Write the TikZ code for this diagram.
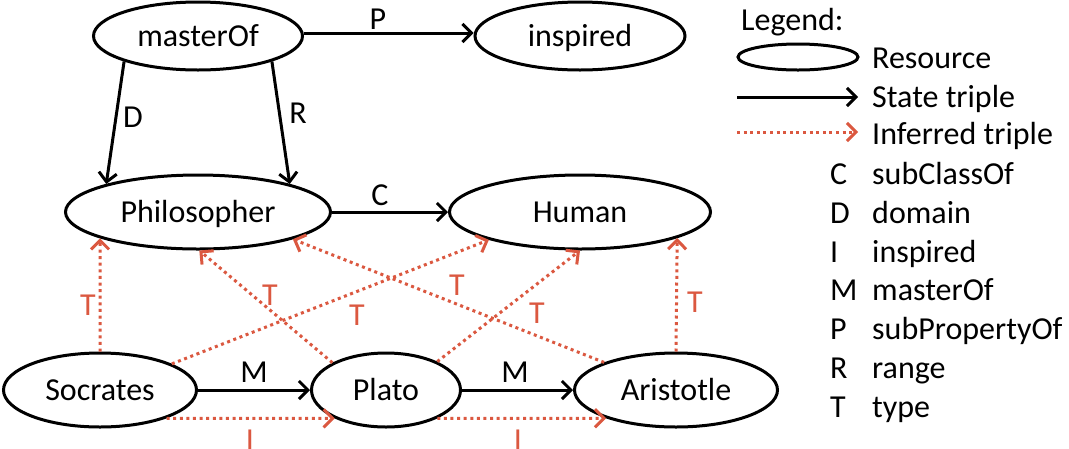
\documentclass[tikz,border=0pt]{standalone}
\usepackage{fontspec}
\setmainfont{Carlito}
\usetikzlibrary{arrows.meta,shapes.geometric}
\definecolor{infred}{RGB}{219,88,64}
\begin{document}
\begin{tikzpicture}[x=1pt,y=-1pt,
  font=\fontsize{32}{38}\selectfont,
  txt/.style={inner sep=0pt,text height=20.4pt,text depth=0pt},
  res/.style={draw,line width=3pt,ellipse,inner sep=0pt,text height=20.4pt,text depth=0pt},
  stated/.style={draw,line width=3pt,-{Straight Barb[length=9pt,width=18pt]}},
  inferred/.style={draw=infred,line width=3pt,dash pattern=on 3pt off 3.6pt,-{Straight Barb[length=9pt,width=18pt]}},
  lbl/.style={txt},
  tlbl/.style={txt,text=infred}
]
\fill[white] (0,0) rectangle (1069,448);
\useasboundingbox (0,0) rectangle (1069,448);

% resources
\node[res,minimum width=209pt,minimum height=68pt] (masterOf) at (198,36) {masterOf};
\node[res,minimum width=210pt,minimum height=68pt] (inspired) at (580,36) {inspired};
\node[res,minimum width=265pt,minimum height=74pt] (phil) at (198,212) {Philosopher};
\node[res,minimum width=261pt,minimum height=74pt] (human) at (580,212) {Human};
\node[res,minimum width=193pt,minimum height=74pt] (soc) at (100,390) {Socrates};
\node[res,minimum width=149pt,minimum height=74pt] (plato) at (386,390) {Plato};
\node[res,minimum width=203pt,minimum height=74pt] (ari) at (676,390) {Aristotle};

% stated triples
\draw[stated] ([yshift=3pt]masterOf.east) -- ([yshift=3pt]inspired.west);
\draw[stated] (masterOf.-161) -- (phil.163);
\draw[stated] (masterOf.-19) -- (phil.17);
\draw[stated] (phil.east) -- (human.west);
\draw[stated] (soc.east) -- (plato.west);
\draw[stated] (plato.east) -- (ari.west);

% inferred triples
\draw[inferred] (soc.-23) -- (plato.-151);
\draw[inferred] (plato.-29) -- (ari.-158);
\draw[inferred] (soc.north) -- (phil.-165);
\draw[inferred] (soc.20) -- (human.-163);
\draw[inferred] (plato.153) -- (phil.-88);
\draw[inferred] (plato.29) -- (human.-90);
\draw[inferred] (ari.159) -- (phil.-16);
\draw[inferred] (ari.north) -- (human.-15);

% labels
\node[lbl] (lP) at (378,19) {P};
\node[lbl] (lD) at (133,117) {D};
\node[lbl] (lR) at (298,113) {R};
\node[lbl] (lC) at (380,195) {C};
\node[lbl] (lM1) at (254,372) {M};
\node[lbl] (lM2) at (515,372) {M};
\node[tlbl] (lI1) at (250,440) {I};
\node[tlbl] (lI2) at (518,440) {I};
\node[tlbl] (lT1) at (88,305) {T};
\node[tlbl] (lT2) at (270,295) {T};
\node[tlbl] (lT3) at (357,315) {T};
\node[tlbl] (lT4) at (457,285) {T};
\node[tlbl] (lT5) at (537,313) {T};
\node[tlbl] (lT6) at (695,302) {T};

% legend
\node[txt,anchor=west] (legtitle) at (741,20) {Legend:};
\node[draw,ellipse,line width=3pt,minimum width=120pt,minimum height=26pt,inner sep=0pt] (legres) at (798,57) {};
\node[txt,anchor=west] (tres) at (872,58) {Resource};
\coordinate (s1) at (737,97);
\coordinate (s2) at (858,97);
\draw[stated] (s1) -- (s2);
\node[txt,anchor=west] (tstate) at (872,97) {State triple};
\coordinate (i1) at (737,132);
\coordinate (i2) at (858,132);
\draw[inferred] (i1) -- (i2);
\node[txt,anchor=west] (tinf) at (872,134) {Inferred triple};

\node[txt,anchor=west] (kC) at (830,174) {C};
\node[txt,anchor=west] (vC) at (872,174) {subClassOf};
\node[txt,anchor=west] (kD) at (830,213) {D};
\node[txt,anchor=west] (vD) at (872,213) {domain};
\node[txt,anchor=west] (kI) at (830,252) {I};
\node[txt,anchor=west] (vI) at (872,252) {inspired};
\node[txt,anchor=west] (kM) at (830,290) {M};
\node[txt,anchor=west] (vM) at (872,290) {masterOf};
\node[txt,anchor=west] (kP) at (830,329) {P};
\node[txt,anchor=west] (vP) at (872,329) {subPropertyOf};
\node[txt,anchor=west] (kR) at (830,368) {R};
\node[txt,anchor=west] (vR) at (872,368) {range};
\node[txt,anchor=west] (kT) at (830,407) {T};
\node[txt,anchor=west] (vT) at (872,407) {type};
\end{tikzpicture}
\end{document}
